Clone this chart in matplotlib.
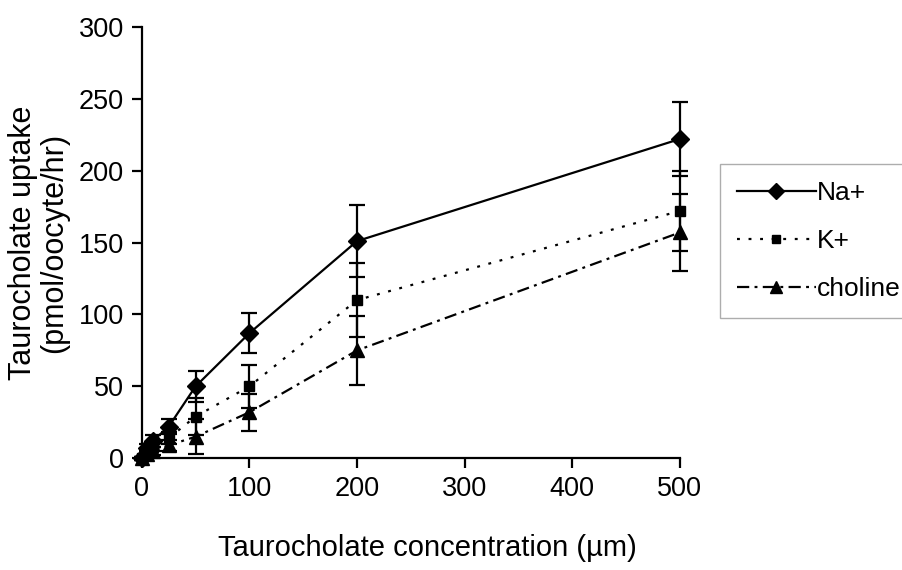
import numpy as np
import matplotlib.pyplot as plt

plt.rcParams['font.family'] = ['Liberation Sans', 'DejaVu Sans']

conc = [0, 5, 10, 25, 50, 100, 200, 500]
na = [0, 7, 12, 22, 50, 87, 151, 222]
na_err = [1, 3, 4, 5, 11, 14, 25, 26]
k = [0, 4, 8, 14, 29, 50, 110, 172]
k_err = [1, 2, 3, 4, 13, 15, 26, 28]
chol = [0, 3, 5, 9, 15, 32, 75, 157]
chol_err = [1, 2, 3, 4, 12, 13, 24, 27]
labels = ['Na+', 'K+', 'choline']

fig = plt.figure(figsize=(9.03, 5.70), dpi=100)
ax = fig.add_axes([0.157, 0.196, 0.596, 0.757])

lw = 1.6
common = dict(color='black', linewidth=lw, capsize=6, capthick=lw, elinewidth=lw,
              markerfacecolor='black', markeredgecolor='black', clip_on=False)
e1 = ax.errorbar(conc, na, yerr=na_err, marker='D', markersize=9, linestyle='-', **common)
e2 = ax.errorbar(conc, k, yerr=k_err, marker='s', markersize=7,
                 linestyle=(0, (1.3, 3.9)), **common)
e3 = ax.errorbar(conc, chol, yerr=chol_err, marker='^', markersize=10,
                 linestyle=(0, (5.5, 2.4, 1.3, 2.4)), **common)

ax.set_xlim(0, 500)
ax.set_ylim(0, 300)
ax.set_xticks([0, 100, 200, 300, 400, 500])
ax.set_yticks([0, 50, 100, 150, 200, 250, 300])
ax.spines['right'].set_visible(False)
ax.spines['top'].set_visible(False)
ax.spines['left'].set_linewidth(lw)
ax.spines['bottom'].set_linewidth(lw)
ax.tick_params(direction='out', length=7, width=lw, labelsize=19.5, pad=6)

ax.set_xlabel('Taurocholate concentration (µm)', fontsize=21)
ax.xaxis.set_label_coords(0.53, -0.175)
ax.set_ylabel('Taurocholate uptake\n(pmol/oocyte/hr)', fontsize=22, linespacing=1.05,
              labelpad=7)

leg = fig.legend([e1[0], e2[0], e3[0]], labels, loc='upper left',
                 bbox_to_anchor=(0.797, 0.712), fontsize=19, frameon=True,
                 fancybox=False, edgecolor='#999999', handlelength=3.0,
                 handletextpad=0.05, labelspacing=0.9, borderpad=0.65,
                 borderaxespad=0)
leg.get_frame().set_linewidth(1.0)
for h in leg.legend_handles:
    h.set_markersize(h.get_markersize() * 0.9)

fig.savefig('out.png', dpi=100)
